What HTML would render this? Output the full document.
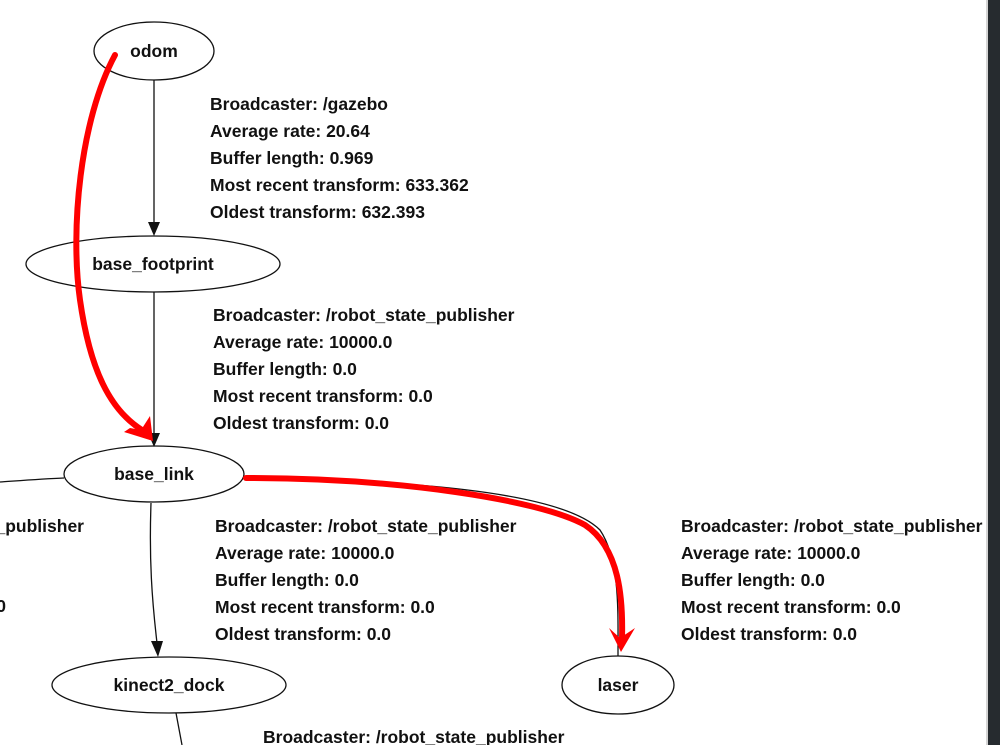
<!DOCTYPE html>
<html><head><style>
html,body{margin:0;padding:0;background:#fff;width:1000px;height:745px;overflow:hidden}
svg text{font-family:"Liberation Sans",sans-serif;font-weight:bold;font-size:17.5px;fill:#111}
</style></head><body>
<svg width="1000" height="745" viewBox="0 0 1000 745" xmlns="http://www.w3.org/2000/svg">
<rect x="0" y="0" width="1000" height="745" fill="#fff"/>
<g fill="none" stroke="#111" stroke-width="1.3">
<ellipse cx="154" cy="51" rx="60" ry="29"/>
<ellipse cx="153" cy="264" rx="127" ry="28"/>
<ellipse cx="154" cy="474" rx="90" ry="28"/>
<ellipse cx="169" cy="685" rx="117" ry="28"/>
<ellipse cx="618" cy="685" rx="56" ry="29"/>
<line x1="154" y1="80" x2="154" y2="222"/>
<line x1="154" y1="292" x2="154" y2="433"/>
<path d="M151 503 C149 560,152 600,157 643"/>
<path d="M244 478 C400 480,560 490,600 530 C620 560,618 610,618 656"/>
<path d="M64 478 C40 479,15 481,0 482"/>
<path d="M176 713 L182 745"/>
</g>
<g fill="#111">
<polygon points="148,222 160,222 154,236"/>
<polygon points="148,433 160,433 154,447"/>
<polygon points="151,641 163,641 158,657"/>
</g>
<g fill="none" stroke="#f00" stroke-width="6" stroke-linecap="round">
<path d="M115 55 C80 120,70 230,80 300 C90 370,110 410,142 430"/>
<path d="M246 478 C400 478,540 500,585 525 C620 548,623 600,622 638"/>
</g>
<g fill="#f00">
<polygon points="153,441 124,432 130,428 141,430 150,416"/>
<polygon points="609,628 620,638 635,628 621,652"/>
</g>
<text x="154" y="57" text-anchor="middle">odom</text>
<text x="153" y="270" text-anchor="middle">base_footprint</text>
<text x="154" y="480" text-anchor="middle">base_link</text>
<text x="169" y="691" text-anchor="middle">kinect2_dock</text>
<text x="618" y="691" text-anchor="middle">laser</text>
<text x="210" y="110">Broadcaster: /gazebo</text>
<text x="210" y="137">Average rate: 20.64</text>
<text x="210" y="164">Buffer length: 0.969</text>
<text x="210" y="191">Most recent transform: 633.362</text>
<text x="210" y="218">Oldest transform: 632.393</text>
<text x="213" y="321">Broadcaster: /robot_state_publisher</text>
<text x="213" y="348">Average rate: 10000.0</text>
<text x="213" y="375">Buffer length: 0.0</text>
<text x="213" y="402">Most recent transform: 0.0</text>
<text x="213" y="429">Oldest transform: 0.0</text>
<text x="215" y="532">Broadcaster: /robot_state_publisher</text>
<text x="215" y="559">Average rate: 10000.0</text>
<text x="215" y="586">Buffer length: 0.0</text>
<text x="215" y="613">Most recent transform: 0.0</text>
<text x="215" y="640">Oldest transform: 0.0</text>
<text x="681" y="532">Broadcaster: /robot_state_publisher</text>
<text x="681" y="559">Average rate: 10000.0</text>
<text x="681" y="586">Buffer length: 0.0</text>
<text x="681" y="613">Most recent transform: 0.0</text>
<text x="681" y="640">Oldest transform: 0.0</text>
<text x="84" y="532" text-anchor="end">_publisher</text>
<text x="6" y="612" text-anchor="end">0</text>
<text x="263" y="743">Broadcaster: /robot_state_publisher</text>
<line x1="987" y1="0" x2="987" y2="745" stroke="#aaa" stroke-width="1"/>
<rect x="988" y="0" width="12" height="745" fill="#262b2f"/>
</svg>
</body></html>
